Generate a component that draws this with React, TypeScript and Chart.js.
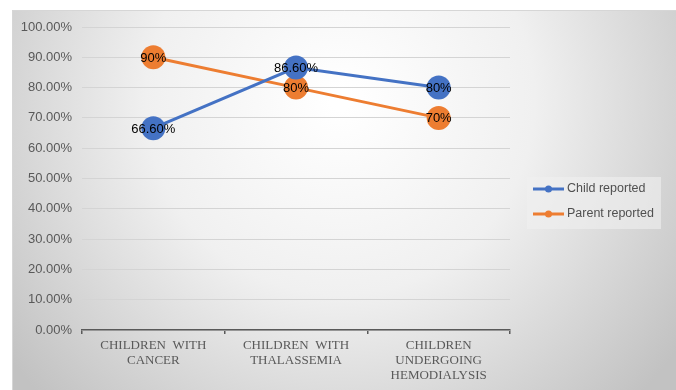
import React, { useEffect, useRef } from "react";
import { Chart, registerables } from "chart.js";

Chart.register(...registerables);

const categories = [
  ["CHILDREN  WITH", "CANCER"],
  ["CHILDREN  WITH", "THALASSEMIA"],
  ["CHILDREN", "UNDERGOING", "HEMODIALYSIS"],
];
const childReported = [66.6, 86.6, 80];
const parentReported = [90, 80, 70];
const childLabels = ["66.60%", "86.60%", "80%"];
const parentLabels = ["90%", "80%", "70%"];
const seriesNames = ["Child reported", "Parent reported"];
const BLUE = "#4472C4";
const ORANGE = "#ED7D31";

const bgPlugin = {
  id: "bg",
  beforeDraw(chart: any) {
    const { ctx, width, height } = chart;
    ctx.save();
    ctx.fillStyle = "#ffffff";
    ctx.fillRect(0, 0, width, height);
    const g = ctx.createRadialGradient(340, 100, 10, 340, 100, 420);
    g.addColorStop(0, "#ffffff");
    g.addColorStop(0.45, "#f0f0f0");
    g.addColorStop(1, "#c2c2c2");
    ctx.fillStyle = g;
    ctx.fillRect(12, 10, width - 12, height - 10);
    ctx.strokeStyle = "#d6d6d6";
    ctx.lineWidth = 1;
    ctx.beginPath();
    ctx.moveTo(12.5, height);
    ctx.lineTo(12.5, 10.5);
    ctx.lineTo(width, 10.5);
    ctx.stroke();
    ctx.restore();
  },
};

const labelPlugin = {
  id: "labels",
  afterDatasetsDraw(chart: any) {
    const { ctx } = chart;
    const all = [childLabels, parentLabels];
    ctx.save();
    ctx.font = "13px 'Liberation Sans', Arial, sans-serif";
    ctx.fillStyle = "#000000";
    ctx.textAlign = "center";
    ctx.textBaseline = "middle";
    chart.data.datasets.forEach((ds: any, i: number) => {
      const meta = chart.getDatasetMeta(i);
      meta.data.forEach((pt: any, j: number) => {
        ctx.fillText(all[i][j], pt.x, pt.y + 1);
      });
    });
    ctx.restore();
  },
};

const legendPlugin = {
  id: "customLegend",
  afterDraw(chart: any) {
    const { ctx } = chart;
    ctx.save();
    ctx.fillStyle = "rgba(240,240,240,0.6)";
    ctx.fillRect(527, 177, 134, 52);
    const colors = [BLUE, ORANGE];
    seriesNames.forEach((name, i) => {
      const y = 189 + i * 25;
      ctx.strokeStyle = colors[i];
      ctx.lineWidth = 3;
      ctx.beginPath();
      ctx.moveTo(533, y);
      ctx.lineTo(564, y);
      ctx.stroke();
      ctx.fillStyle = colors[i];
      ctx.beginPath();
      ctx.arc(548.5, y, 3.5, 0, Math.PI * 2);
      ctx.fill();
      ctx.fillStyle = "#505050";
      ctx.font = "12.5px 'Liberation Sans', Arial, sans-serif";
      ctx.textAlign = "left";
      ctx.textBaseline = "middle";
      ctx.fillText(name, 567, y);
    });
    ctx.restore();
  },
};

export default function App() {
  const ref = useRef<HTMLCanvasElement>(null);
  useEffect(() => {
    if (!ref.current) return;
    const chart = new Chart(ref.current, {
      type: "line",
      data: {
        labels: categories as any,
        datasets: [
          {
            label: seriesNames[0],
            data: childReported,
            borderColor: BLUE,
            backgroundColor: BLUE,
            borderWidth: 3,
            pointRadius: 12,
            pointHoverRadius: 12,
            pointBorderWidth: 0,
          },
          {
            label: seriesNames[1],
            data: parentReported,
            borderColor: ORANGE,
            backgroundColor: ORANGE,
            borderWidth: 3,
            pointRadius: 12,
            pointHoverRadius: 12,
            pointBorderWidth: 0,
          },
        ],
      },
      options: {
        animation: false,
        responsive: false,
        layout: { padding: { left: 0, right: 166, top: 27, bottom: 0 } },
        plugins: { legend: { display: false }, tooltip: { enabled: false } },
        scales: {
          x: {
            offset: true,
            grid: {
              offset: true,
              drawOnChartArea: false,
              drawTicks: true,
              tickLength: 4,
              color: "#595959",
              lineWidth: 1.5,
            },
            border: { display: true, color: "#595959", width: 1.5 },
            ticks: {
              color: "#595959",
              padding: 4,
              maxRotation: 0,
              autoSkip: false,
              font: { family: "'Liberation Serif', 'Times New Roman', serif", size: 13, lineHeight: 1.15 },
            },
            afterFit(scale: any) {
              scale.height = 60;
            },
          },
          y: {
            min: 0,
            max: 100,
            ticks: {
              stepSize: 10,
              color: "#595959",
              padding: 10,
              font: { family: "'Liberation Sans', Arial, sans-serif", size: 13 },
              callback: (v: any) => Number(v).toFixed(2) + "%",
            },
            grid: { color: "#d4d4d4", lineWidth: 1, drawTicks: false },
            border: { display: false },
            afterFit(scale: any) {
              scale.width = 82;
            },
          },
        },
      },
      plugins: [bgPlugin, labelPlugin, legendPlugin],
    });
    return () => chart.destroy();
  }, []);
  return (
    <div style={{ position: "fixed", left: 0, top: 0, width: 676, height: 390 }}>
      <canvas ref={ref} width={676} height={390} style={{ width: 676, height: 390, display: "block" }} />
    </div>
  );
}
